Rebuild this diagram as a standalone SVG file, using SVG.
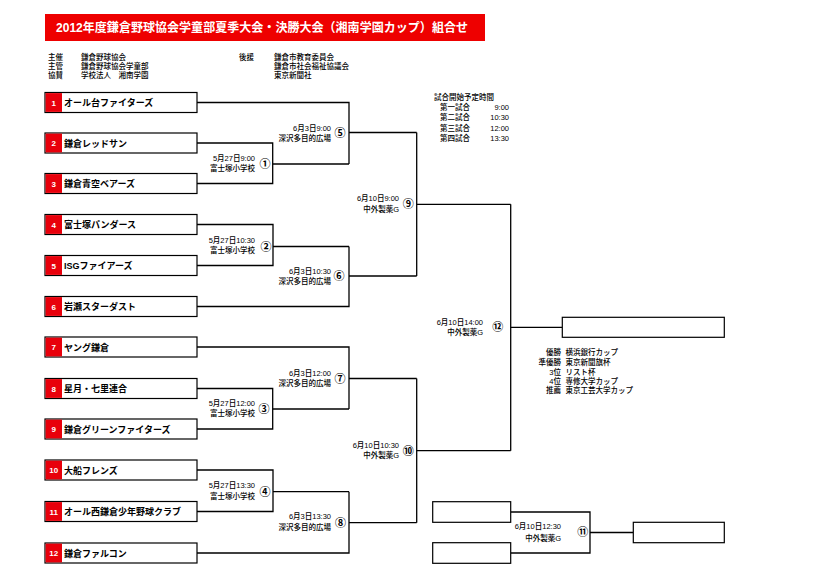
<svg xmlns="http://www.w3.org/2000/svg" width="826" height="577" viewBox="0 0 826 577">
<style>
text{font-family:"Liberation Sans","Noto Sans CJK JP",sans-serif;fill:#000}
.hd{font-size:7.5px;font-weight:500}
.tm{font-size:9px;font-weight:bold}
.no{font-size:8px;font-weight:bold;fill:#fff;text-anchor:middle}
.lb{font-size:7.5px;font-weight:500;text-anchor:end}
.cn{font-size:11px;font-weight:bold;text-anchor:middle;font-family:"Noto Sans CJK JP",sans-serif}
.box{fill:#fff;stroke:#000;stroke-width:1.2}
.red{fill:#e8000b}
.ln{fill:none;stroke:#000;stroke-width:1.3}
</style>
<rect width="826" height="577" fill="#fff"/>
<g id="title">
<rect x="45" y="14" width="440" height="27" fill="#ee0000"/>
<text x="56" y="32" font-size="12.5" font-weight="bold" style="fill:#fff" textLength="412" lengthAdjust="spacingAndGlyphs">2012年度鎌倉野球協会学童部夏季大会・決勝大会（湘南学園カップ）組合せ</text>
</g>
<g id="header" class="hd">
<text x="48" y="59.5">主催</text><text x="81" y="59.5">鎌倉野球協会</text>
<text x="48" y="68.5">主管</text><text x="81" y="68.5">鎌倉野球協会学童部</text>
<text x="48" y="78">協賛</text><text x="81" y="78">学校法人　湘南学園</text>
<text x="239" y="59.5">後援</text><text x="274" y="59.5">鎌倉市教育委員会</text>
<text x="274" y="68.5">鎌倉市社会福祉協議会</text>
<text x="274" y="78">東京新聞社</text>
</g>
<g id="schedule" class="hd">
<text x="434" y="100">試合開始予定時間</text>
<text x="440" y="110">第一試合</text><text x="509" y="110" text-anchor="end">9:00</text>
<text x="440" y="120">第二試合</text><text x="509" y="120" text-anchor="end">10:30</text>
<text x="440" y="130.5">第三試合</text><text x="509" y="130.5" text-anchor="end">12:00</text>
<text x="440" y="141">第四試合</text><text x="509" y="141" text-anchor="end">13:30</text>
</g>
<g id="connectors" class="ln">
<path d="M197,102.5H349V164"/>
<path d="M197,143H272.7V183.5H197"/>
<path d="M272.7,164H349"/>
<path d="M349,132.5H416.7"/>
<path d="M197,224.5H273V265.5H197"/>
<path d="M273,246.5H349"/>
<path d="M197,306.5H349V246.5"/>
<path d="M349,276H416.7"/>
<path d="M416.7,132.5V276"/>
<path d="M416.7,204.3H510.7"/>
<path d="M197,347H349V409"/>
<path d="M197,388.5H272.7V429H197"/>
<path d="M272.7,409H349"/>
<path d="M349,378.5H416.7"/>
<path d="M197,470H273V511.5H197"/>
<path d="M273,491.7H349"/>
<path d="M197,553H349V491.7"/>
<path d="M349,522.7H416.7"/>
<path d="M416.7,378.5V522.7"/>
<path d="M416.7,450.7H510.7"/>
<path d="M510.7,204.3V450.7"/>
<path d="M510.7,327.3H562.3"/>
<path d="M510.7,512H590V553H510.7"/>
<path d="M590,532.5H633.3"/>
</g>
<g id="team1"><rect class="box" x="45" y="92.5" width="152" height="20"/><rect class="red" x="45.6" y="93.1" width="16.4" height="18.8"/><text class="no" x="53.8" y="105.5">1</text><text class="tm" x="64" y="106">オール台ファイターズ</text></g>
<g id="team2"><rect class="box" x="45" y="133" width="152" height="20"/><rect class="red" x="45.6" y="133.6" width="16.4" height="18.8"/><text class="no" x="53.8" y="146">2</text><text class="tm" x="64" y="146.5">鎌倉レッドサン</text></g>
<g id="team3"><rect class="box" x="45" y="173.5" width="152" height="20"/><rect class="red" x="45.6" y="174.1" width="16.4" height="18.8"/><text class="no" x="53.8" y="186.5">3</text><text class="tm" x="64" y="187">鎌倉青空ベアーズ</text></g>
<g id="team4"><rect class="box" x="45" y="214.5" width="152" height="20"/><rect class="red" x="45.6" y="215.1" width="16.4" height="18.8"/><text class="no" x="53.8" y="227.5">4</text><text class="tm" x="64" y="228">富士塚パンダース</text></g>
<g id="team5"><rect class="box" x="45" y="255.5" width="152" height="20"/><rect class="red" x="45.6" y="256.1" width="16.4" height="18.8"/><text class="no" x="53.8" y="268.5">5</text><text class="tm" x="64" y="269">ISGファイアーズ</text></g>
<g id="team6"><rect class="box" x="45" y="296.5" width="152" height="20"/><rect class="red" x="45.6" y="297.1" width="16.4" height="18.8"/><text class="no" x="53.8" y="309.5">6</text><text class="tm" x="64" y="310">岩瀬スターダスト</text></g>
<g id="team7"><rect class="box" x="45" y="337" width="152" height="20"/><rect class="red" x="45.6" y="337.6" width="16.4" height="18.8"/><text class="no" x="53.8" y="350">7</text><text class="tm" x="64" y="350.5">ヤング鎌倉</text></g>
<g id="team8"><rect class="box" x="45" y="378.5" width="152" height="20"/><rect class="red" x="45.6" y="379.1" width="16.4" height="18.8"/><text class="no" x="53.8" y="391.5">8</text><text class="tm" x="64" y="392">星月・七里連合</text></g>
<g id="team9"><rect class="box" x="45" y="419" width="152" height="20"/><rect class="red" x="45.6" y="419.6" width="16.4" height="18.8"/><text class="no" x="53.8" y="432">9</text><text class="tm" x="64" y="432.5">鎌倉グリーンファイターズ</text></g>
<g id="team10"><rect class="box" x="45" y="460" width="152" height="20"/><rect class="red" x="45.6" y="460.6" width="16.4" height="18.8"/><text class="no" x="53.8" y="473">10</text><text class="tm" x="64" y="473.5">大船フレンズ</text></g>
<g id="team11"><rect class="box" x="45" y="501.5" width="152" height="20"/><rect class="red" x="45.6" y="502.1" width="16.4" height="18.8"/><text class="no" x="53.8" y="514.5">11</text><text class="tm" x="64" y="515">オール西鎌倉少年野球クラブ</text></g>
<g id="team12"><rect class="box" x="45" y="543" width="152" height="20"/><rect class="red" x="45.6" y="543.6" width="16.4" height="18.8"/><text class="no" x="53.8" y="556">12</text><text class="tm" x="64" y="556.5">鎌倉ファルコン</text></g>
<g id="match1"><text class="lb" x="255" y="161">5月27日9:00</text><text class="lb" x="255" y="171">富士塚小学校</text><text class="cn" x="265" y="168">①</text></g>
<g id="match2"><text class="lb" x="255" y="243">5月27日10:30</text><text class="lb" x="255" y="253">富士塚小学校</text><text class="cn" x="266" y="250.5">②</text></g>
<g id="match3"><text class="lb" x="255" y="405.5">5月27日12:00</text><text class="lb" x="255" y="416">富士塚小学校</text><text class="cn" x="264" y="413">③</text></g>
<g id="match4"><text class="lb" x="255" y="488">5月27日13:30</text><text class="lb" x="255" y="499">富士塚小学校</text><text class="cn" x="265" y="495.5">④</text></g>
<g id="match5"><text class="lb" x="331" y="131">6月3日9:00</text><text class="lb" x="331" y="141">深沢多目的広場</text><text class="cn" x="340" y="136.5">⑤</text></g>
<g id="match6"><text class="lb" x="331" y="273.5">6月3日10:30</text><text class="lb" x="331" y="284">深沢多目的広場</text><text class="cn" x="339" y="280">⑥</text></g>
<g id="match7"><text class="lb" x="331" y="376">6月3日12:00</text><text class="lb" x="331" y="386">深沢多目的広場</text><text class="cn" x="340" y="382.5">⑦</text></g>
<g id="match8"><text class="lb" x="331" y="519">6月3日13:30</text><text class="lb" x="331" y="529.5">深沢多目的広場</text><text class="cn" x="340.5" y="526.5">⑧</text></g>
<g id="match9"><text class="lb" x="399" y="201">6月10日9:00</text><text class="lb" x="399" y="212">中外製薬G</text><text class="cn" x="408.3" y="208.3">⑨</text></g>
<g id="match10"><text class="lb" x="399" y="448">6月10日10:30</text><text class="lb" x="399" y="458">中外製薬G</text><text class="cn" x="408.3" y="454.7">⑩</text></g>
<g id="match12"><text class="lb" x="483" y="325">6月10日14:00</text><text class="lb" x="483" y="335">中外製薬G</text><text class="cn" x="497.7" y="330.7">⑫</text></g>
<g id="final"><rect class="box" x="562.3" y="317.3" width="162" height="20"/></g>
<g id="awards" class="hd">
<text x="561" y="355" text-anchor="end">優勝</text><text x="565.5" y="355">横浜銀行カップ</text>
<text x="561" y="364.5" text-anchor="end">準優勝</text><text x="565.5" y="364.5">東京新聞旗杯</text>
<text x="561" y="374.5" text-anchor="end">3位</text><text x="565.5" y="374.5">リスト杯</text>
<text x="561" y="384" text-anchor="end">4位</text><text x="565.5" y="384">専修大学カップ</text>
<text x="561" y="393" text-anchor="end">推薦</text><text x="565.5" y="393">東京工芸大学カップ</text>
</g>
<g id="semiA"><rect class="box" x="432.7" y="501.7" width="78" height="20.6"/></g>
<g id="semiB"><rect class="box" x="432.7" y="542.7" width="78" height="20.6"/></g>
<g id="match11"><text class="lb" x="561" y="529">6月10日12:30</text><text class="lb" x="561" y="540.5">中外製薬G</text><text class="cn" x="582.7" y="536.3">⑪</text></g>
<g id="third"><rect class="box" x="633.3" y="522.3" width="91" height="20.4"/></g>
</svg>
